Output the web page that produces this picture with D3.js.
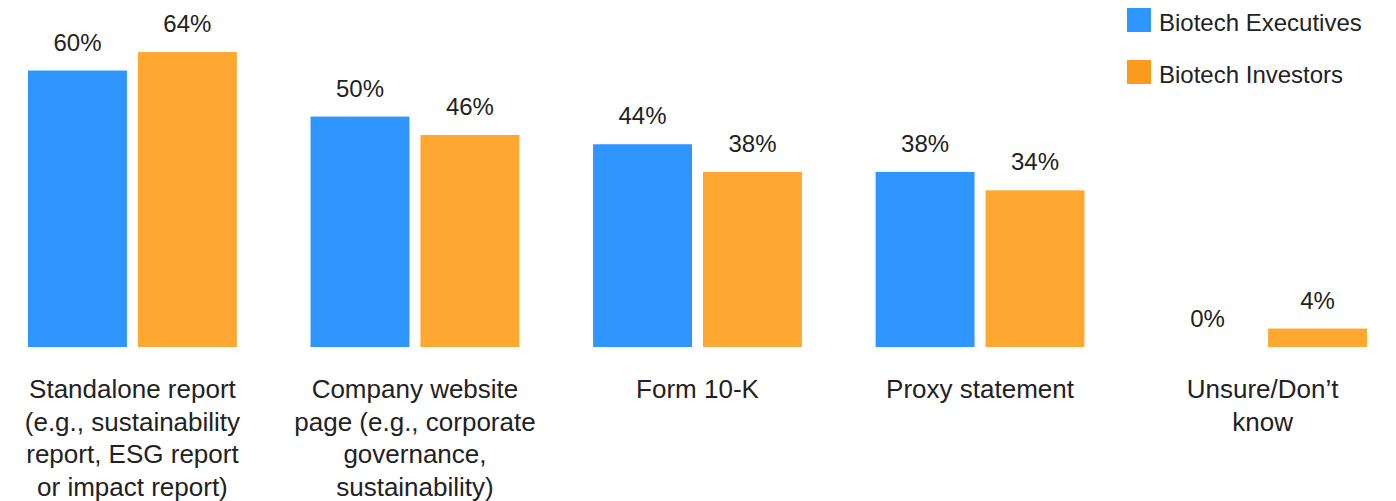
<!DOCTYPE html>
<html>
<head>
<meta charset="utf-8">
<script src="https://cdn.jsdelivr.net/npm/d3@7/dist/d3.min.js"></script>
<style>
  html, body { margin: 0; padding: 0; background: #fff; }
  svg { display: block; font-family: "Liberation Sans", Arial, Helvetica, sans-serif; }
</style>
</head>
<body>
<svg id="chart" width="1396" height="501"></svg>
<script>
// Where companies disclose ESG information (share of respondents, %)
const categories = [
  "Standalone report",
  "Company website page",
  "Form 10-K",
  "Proxy statement",
  "Unsure/Don't know"
];
const categoryLines = [
  ["Standalone report", "(e.g., sustainability", "report, ESG report", "or impact report)"],
  ["Company website", "page (e.g., corporate", "governance,", "sustainability)"],
  ["Form 10-K"],
  ["Proxy statement"],
  ["Unsure/Don\u2019t", "know"]
];
const seriesNames = ["Biotech Executives", "Biotech Investors"];
const executives = [60, 50, 44, 38, 0];
const investors = [64, 46, 38, 34, 4];

const barColors = ["#3096ff", "#fea831"];
const legendColors = ["#3096ff", "#fa9a1e"];
const textColor = "#222";

const svg = d3.select("#chart");

const baseline = 347;
const x0 = d3.scaleBand()
  .domain(categories)
  .range([28, 1367])
  .paddingInner(0.2608)
  .paddingOuter(0);

const x1 = d3.scaleBand()
  .domain(seriesNames)
  .range([0, x0.bandwidth()])
  .paddingInner(0.1)
  .paddingOuter(0);

const y = d3.scaleLinear()
  .domain([0, 75.3])
  .range([baseline, 0]);

const rows = categories.map((c, i) => ({
  category: c,
  lines: categoryLines[i],
  values: [
    { series: seriesNames[0], value: executives[i] },
    { series: seriesNames[1], value: investors[i] }
  ]
}));

const groups = svg.append("g")
  .selectAll("g.group")
  .data(rows)
  .join("g")
  .attr("class", "group")
  .attr("transform", d => `translate(${x0(d.category)},0)`);

// bars
groups.selectAll("rect")
  .data(d => d.values)
  .join("rect")
  .attr("x", d => x1(d.series))
  .attr("y", d => y(d.value))
  .attr("width", x1.bandwidth())
  .attr("height", d => baseline - y(d.value))
  .attr("fill", (d, i) => barColors[i]);

// value labels
groups.selectAll("text.value")
  .data(d => d.values)
  .join("text")
  .attr("class", "value")
  .attr("x", d => x1(d.series) + x1.bandwidth() / 2)
  .attr("y", d => y(d.value) - 20)
  .attr("text-anchor", "middle")
  .attr("font-size", 24)
  .attr("fill", textColor)
  .text(d => d.value + "%");

// category labels
const catLabels = groups.append("text")
  .attr("class", "category")
  .attr("text-anchor", "middle")
  .attr("font-size", 26)
  .attr("fill", textColor);

catLabels.selectAll("tspan")
  .data(d => d.lines)
  .join("tspan")
  .attr("x", x0.bandwidth() / 2)
  .attr("y", (d, i) => 398 + i * 32.7)
  .text(d => d);

// legend
const legend = svg.append("g")
  .selectAll("g.legend")
  .data(seriesNames)
  .join("g")
  .attr("class", "legend")
  .attr("transform", (d, i) => `translate(1127,${8 + i * 52})`);

legend.append("rect")
  .attr("width", 24)
  .attr("height", 24)
  .attr("fill", (d, i) => legendColors[i]);

legend.append("text")
  .attr("x", 32)
  .attr("y", 22.5)
  .attr("font-size", 24)
  .attr("fill", textColor)
  .text(d => d);
</script>
</body>
</html>
